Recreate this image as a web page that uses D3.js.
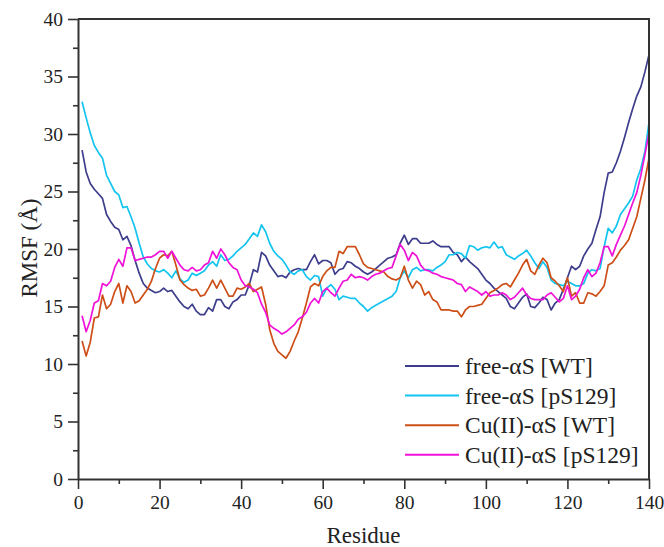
<!DOCTYPE html>
<html>
<head>
<meta charset="utf-8">
<script src="https://cdn.jsdelivr.net/npm/d3@7"></script>
<style>
  body { margin: 0; background: #fff; }
  svg { display: block; }
</style>
</head>
<body>
<svg width="664" height="547"></svg>
<script>
var svg = d3.select('svg');

// residue numbers 1..140
var residues = d3.range(1, 141);

var freeWT = [
  28.6, 26.7, 25.7, 25.2, 24.8, 24.4, 23.0, 22.4, 21.9, 21.7,
  20.8, 21.1, 20.3, 19.0, 17.9, 17.0, 16.6, 16.4, 16.2, 16.3,
  16.6, 16.3, 16.4, 15.9, 15.4, 15.0, 14.8, 15.2, 14.6, 14.3,
  14.3, 14.9, 14.6, 15.6, 15.6, 15.0, 14.8, 15.4, 15.6, 16.0,
  16.0, 16.9, 18.2, 18.0, 19.7, 19.4, 18.6, 18.1, 17.6, 17.7,
  17.5, 18.0, 18.2, 18.3, 18.2, 18.2, 18.9, 19.5, 18.7, 19.0,
  19.0, 18.8, 17.8, 18.2, 18.3, 18.9, 18.8, 18.5, 18.3, 18.0,
  17.8, 18.0, 18.3, 18.6, 18.9, 19.2, 19.3, 19.5, 20.5, 21.2,
  20.4, 20.9, 20.9, 20.5, 20.5, 20.5, 20.7, 20.4, 20.2, 20.2,
  20.2, 19.7, 19.5, 18.9, 19.3, 18.9, 18.6, 18.3, 17.8, 17.3,
  17.0, 16.6, 16.3, 16.0, 15.7, 15.0, 14.8, 15.3, 15.8, 16.1,
  15.0, 14.9, 15.3, 15.8, 15.6, 14.7, 15.3, 15.6, 16.5, 17.5,
  18.5, 18.2, 18.5, 19.4, 20.0, 20.5, 21.7, 22.8, 24.9, 26.6,
  26.7, 27.5, 28.5, 29.7, 31.0, 32.2, 33.3, 34.1, 35.4, 36.9
];

var freePS129 = [
  32.8, 31.4, 30.1, 29.0, 28.4, 27.9, 26.4, 25.7, 25.0, 24.7,
  23.6, 23.7, 22.8, 21.8, 20.5, 19.3, 18.7, 18.3, 18.1, 18.0,
  18.2, 17.9, 17.5, 18.1, 17.4, 17.1, 17.3, 17.9, 17.7, 17.9,
  18.1, 18.6, 18.9, 18.5, 19.5, 19.0, 19.1, 19.4, 19.8, 20.1,
  20.4, 20.9, 21.4, 21.1, 22.1, 21.5, 20.5, 19.8, 19.4, 19.1,
  18.6, 18.0, 17.8, 18.1, 18.2, 17.6, 17.3, 17.7, 17.6, 15.9,
  16.6, 16.9, 16.5, 15.6, 15.9, 15.8, 15.7, 15.7, 15.3, 15.0,
  14.6, 14.9, 15.1, 15.3, 15.5, 15.7, 15.9, 16.3, 17.5, 18.1,
  17.5, 18.2, 18.4, 18.1, 18.2, 18.2, 18.1, 18.4, 18.6, 18.9,
  19.5, 19.5, 19.7, 19.6, 19.2, 20.3, 20.2, 19.9, 20.1, 20.2,
  20.1, 20.6, 20.1, 20.2, 19.5, 19.3, 19.1, 19.4, 19.6, 19.9,
  19.4, 18.8, 18.3, 18.9, 18.4, 17.3, 17.0, 16.9, 16.8, 17.2,
  17.0, 16.8, 16.8, 17.0, 17.9, 18.2, 18.1, 18.3, 20.2, 21.8,
  21.4, 22.0, 23.0, 23.5, 24.0, 24.6, 26.0, 27.0, 28.5, 31.0
];

var cuWT = [
  12.0, 10.7, 11.9, 14.0, 14.1, 16.0, 14.8, 15.2, 16.3, 17.0,
  15.3, 16.8, 16.3, 15.3, 15.5, 16.0, 16.5, 17.2, 18.3, 19.2,
  19.5, 19.4, 19.8, 18.6, 17.3, 16.9, 16.6, 16.4, 16.5, 15.9,
  16.0, 16.6, 17.3, 16.6, 17.3, 16.6, 15.9, 15.9, 16.6, 16.5,
  16.7, 17.0, 16.3, 16.5, 16.7, 15.2, 13.0, 11.8, 11.1, 10.8,
  10.5, 11.1, 12.0, 12.8, 14.0, 15.3, 16.7, 17.0, 16.8, 17.6,
  18.1, 18.4, 18.4, 19.8, 19.6, 20.2, 20.2, 20.2, 19.5, 18.7,
  18.4, 18.3, 18.2, 18.1, 18.0, 17.6, 17.4, 17.3, 17.5, 18.5,
  17.3, 16.6, 17.2, 16.9, 16.0, 16.3, 15.6, 15.4, 14.7, 14.7,
  14.7, 14.6, 14.6, 14.1, 14.7, 15.0, 15.0, 15.1, 15.2, 15.7,
  16.2, 16.4, 16.6, 16.9, 17.0, 16.7, 17.3, 17.9, 18.6, 19.1,
  18.1, 17.8, 18.6, 19.2, 18.8, 17.5, 17.2, 16.8, 16.3, 17.5,
  15.9, 16.2, 15.3, 15.3, 16.2, 16.1, 15.9, 16.3, 16.8, 18.6,
  18.8, 19.3, 19.9, 20.3, 20.8, 21.8, 22.8, 24.4, 26.0, 27.9
];

var cuPS129 = [
  14.2, 12.8, 13.8, 15.3, 15.5, 17.0, 16.8, 17.2, 18.4, 19.1,
  18.5, 20.1, 20.1, 19.0, 19.1, 19.2, 19.3, 19.3, 19.5, 19.8,
  19.8, 19.2, 19.8, 19.2, 18.6, 18.2, 18.1, 18.4, 18.1, 18.2,
  18.6, 18.8, 19.8, 19.2, 20.0, 19.5, 18.8, 18.4, 18.2, 17.3,
  16.8, 16.7, 16.5, 16.2, 15.2, 14.5, 13.4, 13.1, 12.9, 12.6,
  12.8, 13.1, 13.4, 13.9, 14.1, 14.5, 15.3, 15.7, 15.3, 16.3,
  16.6, 16.2, 15.9, 16.6, 17.2, 17.3, 17.8, 17.5, 17.6, 17.5,
  17.3, 17.6, 17.8, 17.9, 18.1, 18.3, 18.4, 19.4, 20.4, 19.9,
  19.0, 19.7, 19.4, 18.6, 18.2, 18.1, 17.9, 17.8, 17.6, 17.5,
  17.4, 17.3, 17.0, 16.9, 16.3, 16.7, 16.5, 16.3, 16.0, 16.3,
  15.9, 16.0, 16.0, 16.2, 16.0, 15.6, 15.8, 16.2, 16.6, 16.0,
  15.7, 15.6, 15.6, 15.6, 16.0, 16.2, 15.8, 15.4, 15.7, 16.8,
  15.6, 15.9, 16.5, 17.5, 18.2, 17.6, 17.9, 18.8, 20.2, 20.2,
  19.4, 20.4, 21.2, 22.0, 23.0, 24.0, 24.9, 26.4, 28.2, 30.1
];

var seriesNames = ['free-\u03b1S [WT]', 'free-\u03b1S [pS129]', 'Cu(II)-\u03b1S [WT]', 'Cu(II)-\u03b1S [pS129]'];
var seriesColors = ['#3d3d8c', '#12c4ef', '#cd4f17', '#f012d8'];
var seriesValues = [freeWT, freePS129, cuWT, cuPS129];

var xTicks = [0, 20, 40, 60, 80, 100, 120, 140];
var xMinor = [10, 30, 50, 70, 90, 110, 130];
var yTicks = [0, 5, 10, 15, 20, 25, 30, 35, 40];
var yMinor = [2.5, 7.5, 12.5, 17.5, 22.5, 27.5, 32.5, 37.5];

// plot box (don't use "top" - clashes with window.top)
var plotLeft = 78, plotRight = 649, plotTop = 19, plotBottom = 479;
var font = '"Liberation Serif", "Times New Roman", serif';

var x = d3.scaleLinear().domain([0, 140]).range([plotLeft, plotRight]);
var y = d3.scaleLinear().domain([0, 40]).range([plotBottom, plotTop]);

// lines
var line = d3.line()
  .x(function(d, i){ return x(residues[i]); })
  .y(function(d){ return y(d); });

svg.selectAll('path.series')
  .data(seriesValues)
  .enter()
  .append('path')
  .attr('class', 'series')
  .attr('d', line)
  .attr('fill', 'none')
  .attr('stroke', function(d, i){ return seriesColors[i]; })
  .attr('stroke-width', 1.7)
  .attr('stroke-linejoin', 'round');

// frame (top + right)
svg.append('path')
  .attr('d', 'M' + plotLeft + ',' + plotTop + 'H' + plotRight + 'V' + plotBottom)
  .attr('fill', 'none')
  .attr('stroke', '#333')
  .attr('stroke-width', 2);

// x axis
svg.append('g')
  .attr('transform', 'translate(0,' + plotBottom + ')')
  .call(d3.axisBottom(x).tickValues(xTicks).tickSize(10).tickPadding(6).tickSizeOuter(0));
svg.append('g')
  .attr('transform', 'translate(0,' + plotBottom + ')')
  .call(d3.axisBottom(x).tickValues(xMinor).tickSize(5).tickFormat('').tickSizeOuter(0))
  .select('.domain').remove();

// y axis
svg.append('g')
  .attr('transform', 'translate(' + plotLeft + ',0)')
  .call(d3.axisLeft(y).tickValues(yTicks).tickSize(10).tickPadding(5).tickSizeOuter(0));
svg.append('g')
  .attr('transform', 'translate(' + plotLeft + ',0)')
  .call(d3.axisLeft(y).tickValues(yMinor).tickSize(5).tickFormat('').tickSizeOuter(0))
  .select('.domain').remove();

svg.selectAll('.domain')
  .attr('stroke', '#333')
  .attr('stroke-width', 2);
svg.selectAll('.tick line')
  .attr('stroke', '#333')
  .attr('stroke-width', 1.6);
svg.selectAll('.tick text')
  .attr('font-family', font)
  .attr('font-size', 19.5)
  .attr('fill', '#222');

// axis titles
svg.append('text')
  .attr('x', (plotLeft + plotRight) / 2)
  .attr('y', 543)
  .attr('text-anchor', 'middle')
  .attr('font-family', font)
  .attr('font-size', 23)
  .attr('fill', '#222')
  .text('Residue');

svg.append('text')
  .attr('transform', 'translate(37,248) rotate(-90)')
  .attr('text-anchor', 'middle')
  .attr('font-family', font)
  .attr('font-size', 23)
  .attr('fill', '#222')
  .text('RMSF (\u00c5)');

// legend
var legend = svg.selectAll('g.legend')
  .data(seriesNames)
  .enter()
  .append('g')
  .attr('class', 'legend')
  .attr('transform', function(d, i){ return 'translate(405,' + (366 + i * 29.6) + ')'; });

legend.append('line')
  .attr('x1', 0)
  .attr('x2', 54)
  .attr('stroke', function(d, i){ return seriesColors[i]; })
  .attr('stroke-width', 2);

legend.append('text')
  .attr('x', 60)
  .attr('y', 8)
  .attr('font-family', font)
  .attr('font-size', 23.5)
  .attr('fill', '#222')
  .text(function(d){ return d; });
</script>
</body>
</html>
